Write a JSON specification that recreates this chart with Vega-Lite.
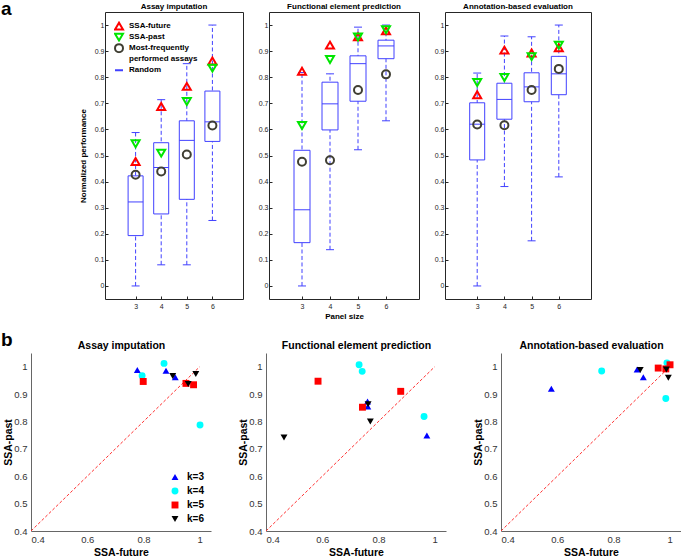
{
  "$schema": "https://vega.github.io/schema/vega-lite/v6.json",
  "padding": {"left": 0, "top": 0, "right": 0, "bottom": 0},
  "config": {"font": "Liberation Sans", "view": {"stroke": null}, "axis": {"grid": false}},
  "datasets": {
    "boxes": [
      {"panel": "AI", "k": 3, "min": 0.0, "q1": 0.193, "med": 0.322, "q3": 0.422, "max": 0.588},
      {"panel": "AI", "k": 4, "min": 0.081, "q1": 0.276, "med": 0.454, "q3": 0.549, "max": 0.714},
      {"panel": "AI", "k": 5, "min": 0.081, "q1": 0.332, "med": 0.558, "q3": 0.633, "max": 0.852},
      {"panel": "AI", "k": 6, "min": 0.251, "q1": 0.554, "med": 0.629, "q3": 0.747, "max": 1.0},
      {"panel": "FEP", "k": 3, "min": 0.0, "q1": 0.166, "med": 0.292, "q3": 0.52, "max": 0.818},
      {"panel": "FEP", "k": 4, "min": 0.139, "q1": 0.598, "med": 0.698, "q3": 0.781, "max": 0.813},
      {"panel": "FEP", "k": 5, "min": 0.522, "q1": 0.708, "med": 0.852, "q3": 0.882, "max": 0.992},
      {"panel": "FEP", "k": 6, "min": 0.633, "q1": 0.871, "med": 0.92, "q3": 0.942, "max": 1.0},
      {"panel": "ABE", "k": 3, "min": 0.0, "q1": 0.483, "med": 0.62, "q3": 0.702, "max": 0.816},
      {"panel": "ABE", "k": 4, "min": 0.381, "q1": 0.639, "med": 0.715, "q3": 0.777, "max": 0.958},
      {"panel": "ABE", "k": 5, "min": 0.173, "q1": 0.706, "med": 0.763, "q3": 0.817, "max": 0.955},
      {"panel": "ABE", "k": 6, "min": 0.418, "q1": 0.733, "med": 0.813, "q3": 0.88, "max": 1.0}
    ],
    "markers": [
      {"panel": "AI", "k": 3, "method": "SSA-future", "value": 0.477},
      {"panel": "AI", "k": 4, "method": "SSA-future", "value": 0.688},
      {"panel": "AI", "k": 5, "method": "SSA-future", "value": 0.765},
      {"panel": "AI", "k": 6, "method": "SSA-future", "value": 0.862},
      {"panel": "AI", "k": 3, "method": "SSA-past", "value": 0.545},
      {"panel": "AI", "k": 4, "method": "SSA-past", "value": 0.509},
      {"panel": "AI", "k": 5, "method": "SSA-past", "value": 0.707},
      {"panel": "AI", "k": 6, "method": "SSA-past", "value": 0.835},
      {"panel": "AI", "k": 3, "method": "Most-frequently performed assays", "value": 0.426},
      {"panel": "AI", "k": 4, "method": "Most-frequently performed assays", "value": 0.439},
      {"panel": "AI", "k": 5, "method": "Most-frequently performed assays", "value": 0.504},
      {"panel": "AI", "k": 6, "method": "Most-frequently performed assays", "value": 0.615},
      {"panel": "FEP", "k": 3, "method": "SSA-future", "value": 0.823},
      {"panel": "FEP", "k": 4, "method": "SSA-future", "value": 0.923},
      {"panel": "FEP", "k": 5, "method": "SSA-future", "value": 0.955},
      {"panel": "FEP", "k": 6, "method": "SSA-future", "value": 0.978},
      {"panel": "FEP", "k": 3, "method": "SSA-past", "value": 0.615},
      {"panel": "FEP", "k": 4, "method": "SSA-past", "value": 0.868},
      {"panel": "FEP", "k": 5, "method": "SSA-past", "value": 0.954},
      {"panel": "FEP", "k": 6, "method": "SSA-past", "value": 0.982},
      {"panel": "FEP", "k": 3, "method": "Most-frequently performed assays", "value": 0.476},
      {"panel": "FEP", "k": 4, "method": "Most-frequently performed assays", "value": 0.482},
      {"panel": "FEP", "k": 5, "method": "Most-frequently performed assays", "value": 0.751},
      {"panel": "FEP", "k": 6, "method": "Most-frequently performed assays", "value": 0.811},
      {"panel": "ABE", "k": 3, "method": "SSA-future", "value": 0.733},
      {"panel": "ABE", "k": 4, "method": "SSA-future", "value": 0.904},
      {"panel": "ABE", "k": 5, "method": "SSA-future", "value": 0.893},
      {"panel": "ABE", "k": 6, "method": "SSA-future", "value": 0.913},
      {"panel": "ABE", "k": 3, "method": "SSA-past", "value": 0.78},
      {"panel": "ABE", "k": 4, "method": "SSA-past", "value": 0.799},
      {"panel": "ABE", "k": 5, "method": "SSA-past", "value": 0.879},
      {"panel": "ABE", "k": 6, "method": "SSA-past", "value": 0.923},
      {"panel": "ABE", "k": 3, "method": "Most-frequently performed assays", "value": 0.619},
      {"panel": "ABE", "k": 4, "method": "Most-frequently performed assays", "value": 0.616},
      {"panel": "ABE", "k": 5, "method": "Most-frequently performed assays", "value": 0.751},
      {"panel": "ABE", "k": 6, "method": "Most-frequently performed assays", "value": 0.832}
    ],
    "scatter": [
      {"panel": "AI", "k": 3, "future": 0.778, "past": 0.988},
      {"panel": "AI", "k": 3, "future": 0.88, "past": 0.985},
      {"panel": "AI", "k": 3, "future": 0.913, "past": 0.961},
      {"panel": "AI", "k": 4, "future": 0.795, "past": 0.967},
      {"panel": "AI", "k": 4, "future": 0.873, "past": 1.012},
      {"panel": "AI", "k": 4, "future": 1.001, "past": 0.787},
      {"panel": "AI", "k": 5, "future": 0.799, "past": 0.946},
      {"panel": "AI", "k": 5, "future": 0.951, "past": 0.939},
      {"panel": "AI", "k": 5, "future": 0.978, "past": 0.934},
      {"panel": "AI", "k": 6, "future": 0.904, "past": 0.966},
      {"panel": "AI", "k": 6, "future": 0.959, "past": 0.937},
      {"panel": "AI", "k": 6, "future": 0.986, "past": 0.973},
      {"panel": "FEP", "k": 3, "future": 0.761, "past": 0.873},
      {"panel": "FEP", "k": 3, "future": 0.762, "past": 0.855},
      {"panel": "FEP", "k": 3, "future": 0.972, "past": 0.749},
      {"panel": "FEP", "k": 4, "future": 0.731, "past": 1.007},
      {"panel": "FEP", "k": 4, "future": 0.742, "past": 0.983},
      {"panel": "FEP", "k": 4, "future": 0.962, "past": 0.818},
      {"panel": "FEP", "k": 5, "future": 0.585, "past": 0.947},
      {"panel": "FEP", "k": 5, "future": 0.879, "past": 0.91},
      {"panel": "FEP", "k": 5, "future": 0.743, "past": 0.852},
      {"panel": "FEP", "k": 6, "future": 0.763, "past": 0.863},
      {"panel": "FEP", "k": 6, "future": 0.771, "past": 0.8},
      {"panel": "FEP", "k": 6, "future": 0.464, "past": 0.741},
      {"panel": "ABE", "k": 3, "future": 0.579, "past": 0.919},
      {"panel": "ABE", "k": 3, "future": 0.884, "past": 0.99},
      {"panel": "ABE", "k": 3, "future": 0.906, "past": 0.961},
      {"panel": "ABE", "k": 4, "future": 0.758, "past": 0.984},
      {"panel": "ABE", "k": 4, "future": 0.99, "past": 1.014},
      {"panel": "ABE", "k": 4, "future": 0.986, "past": 0.884},
      {"panel": "ABE", "k": 5, "future": 0.959, "past": 0.995},
      {"panel": "ABE", "k": 5, "future": 1.001, "past": 1.007},
      {"panel": "ABE", "k": 5, "future": 0.986, "past": 0.992},
      {"panel": "ABE", "k": 6, "future": 0.895, "past": 0.988},
      {"panel": "ABE", "k": 6, "future": 0.995, "past": 0.96},
      {"panel": "ABE", "k": 6, "future": 0.988, "past": 0.99}
    ]
  },
  "resolve": {"scale": {"color": "independent", "shape": "independent"}},
  "spacing": 10,
  "vconcat": [
    {
      "resolve": {"scale": {"color": "independent", "shape": "independent"}},
      "spacing": 13,
      "hconcat": [
        {
          "width": 34, "height": 287,
          "view": {"fill": "white", "stroke": null},
          "data": {"values": [{"label": "a"}]},
          "mark": {"type": "text", "fontSize": 19, "fontWeight": "bold", "color": "#000", "align": "left", "baseline": "alphabetic"},
          "encoding": {
            "x": {"datum": -0.8824, "type": "quantitative", "scale": {"domain": [0, 1], "nice": false, "zero": false}, "axis": null},
            "y": {"datum": 1.0383, "type": "quantitative", "scale": {"domain": [-0.05, 1.05], "nice": false, "zero": false}, "axis": null},
            "text": {"field": "label"}
          }
        },
        {
          "width": 138, "height": 287,
          "view": {"stroke": "#262626"},
          "title": {"text": "Assay imputation", "fontSize": 8, "fontWeight": "bold", "offset": 1, "color": "#000"},
          "encoding": {
            "x": {"field": "k", "type": "quantitative", "scale": {"domain": [2, 7], "nice": false, "zero": false}, "axis": {"values": [3, 4, 5, 6], "title": null, "labelFontSize": 7, "labelColor": "#262626", "labelPadding": 6, "tickSize": -3, "tickColor": "#262626", "domain": false}}
          },
          "layer": [
            {"data": {"name": "boxes"}, "transform": [{"filter": "datum.panel == 'AI'"}],
             "mark": {"type": "rule", "stroke": "#4040ff", "strokeDash": [4, 2.5], "strokeWidth": 1},
             "encoding": {
               "y": {"field": "min", "type": "quantitative", "scale": {"domain": [-0.05, 1.05], "nice": false, "zero": false}, "axis": {"values": [0, 0.1, 0.2, 0.3, 0.4, 0.5, 0.6, 0.7, 0.8, 0.9, 1], "labelExpr": "format(datum.value, '~g')", "title": "Normalized performance", "titleFontSize": 8, "titleFontWeight": "bold", "titleColor": "#000", "titlePadding": 7, "labelFontSize": 7, "labelColor": "#262626", "labelPadding": 4, "tickSize": -3, "tickColor": "#262626", "domain": false}},
               "y2": {"field": "max"}
             }},
            {"data": {"name": "boxes"}, "transform": [{"filter": "datum.panel == 'AI'"}],
             "mark": {"type": "tick", "orient": "horizontal", "color": "#4040ff", "size": 8, "thickness": 1, "opacity": 1},
             "encoding": {"y": {"field": "min", "type": "quantitative", "scale": {"domain": [-0.05, 1.05], "nice": false, "zero": false}, "axis": {"values": [0, 0.1, 0.2, 0.3, 0.4, 0.5, 0.6, 0.7, 0.8, 0.9, 1], "labelExpr": "format(datum.value, '~g')", "title": "Normalized performance", "titleFontSize": 8, "titleFontWeight": "bold", "titleColor": "#000", "titlePadding": 7, "labelFontSize": 7, "labelColor": "#262626", "labelPadding": 4, "tickSize": -3, "tickColor": "#262626", "domain": false}}}},
            {"data": {"name": "boxes"}, "transform": [{"filter": "datum.panel == 'AI'"}],
             "mark": {"type": "tick", "orient": "horizontal", "color": "#4040ff", "size": 8, "thickness": 1, "opacity": 1},
             "encoding": {"y": {"field": "max", "type": "quantitative", "scale": {"domain": [-0.05, 1.05], "nice": false, "zero": false}, "axis": {"values": [0, 0.1, 0.2, 0.3, 0.4, 0.5, 0.6, 0.7, 0.8, 0.9, 1], "labelExpr": "format(datum.value, '~g')", "title": "Normalized performance", "titleFontSize": 8, "titleFontWeight": "bold", "titleColor": "#000", "titlePadding": 7, "labelFontSize": 7, "labelColor": "#262626", "labelPadding": 4, "tickSize": -3, "tickColor": "#262626", "domain": false}}}},
            {"data": {"name": "boxes"}, "transform": [{"filter": "datum.panel == 'AI'"}],
             "mark": {"type": "bar", "width": 15, "fill": "white", "stroke": "#4040ff", "strokeWidth": 1},
             "encoding": {"y": {"field": "q1", "type": "quantitative", "scale": {"domain": [-0.05, 1.05], "nice": false, "zero": false}, "axis": {"values": [0, 0.1, 0.2, 0.3, 0.4, 0.5, 0.6, 0.7, 0.8, 0.9, 1], "labelExpr": "format(datum.value, '~g')", "title": "Normalized performance", "titleFontSize": 8, "titleFontWeight": "bold", "titleColor": "#000", "titlePadding": 7, "labelFontSize": 7, "labelColor": "#262626", "labelPadding": 4, "tickSize": -3, "tickColor": "#262626", "domain": false}}, "y2": {"field": "q3"}}},
            {"data": {"name": "boxes"}, "transform": [{"filter": "datum.panel == 'AI'"}],
             "mark": {"type": "tick", "orient": "horizontal", "color": "#4040ff", "size": 15, "thickness": 1, "opacity": 1},
             "encoding": {"y": {"field": "med", "type": "quantitative", "scale": {"domain": [-0.05, 1.05], "nice": false, "zero": false}, "axis": {"values": [0, 0.1, 0.2, 0.3, 0.4, 0.5, 0.6, 0.7, 0.8, 0.9, 1], "labelExpr": "format(datum.value, '~g')", "title": "Normalized performance", "titleFontSize": 8, "titleFontWeight": "bold", "titleColor": "#000", "titlePadding": 7, "labelFontSize": 7, "labelColor": "#262626", "labelPadding": 4, "tickSize": -3, "tickColor": "#262626", "domain": false}}}},
            {"data": {"name": "markers"}, "transform": [{"filter": "datum.panel == 'AI'"}],
             "mark": {"type": "point", "filled": false, "strokeWidth": 2, "size": 64, "opacity": 1},
             "encoding": {
               "y": {"field": "value", "type": "quantitative", "scale": {"domain": [-0.05, 1.05], "nice": false, "zero": false}, "axis": {"values": [0, 0.1, 0.2, 0.3, 0.4, 0.5, 0.6, 0.7, 0.8, 0.9, 1], "labelExpr": "format(datum.value, '~g')", "title": "Normalized performance", "titleFontSize": 8, "titleFontWeight": "bold", "titleColor": "#000", "titlePadding": 7, "labelFontSize": 7, "labelColor": "#262626", "labelPadding": 4, "tickSize": -3, "tickColor": "#262626", "domain": false}},
               "shape": {"field": "method", "type": "nominal", "scale": {"domain": ["SSA-future", "SSA-past", "Most-frequently performed assays", "performed assays", "Random"], "range": ["triangle-up", "triangle-down", "circle", "circle", "stroke"]},
                 "legend": {"orient": "top-left", "offset": 9, "title": null, "padding": 0, "labelFontSize": 8, "labelFontWeight": "bold", "labelColor": "#000", "labelLimit": 300, "labelOffset": 5, "symbolSize": 64, "symbolStrokeWidth": 2, "rowPadding": 0, "clipHeight": 10.3, "labelExpr": "datum.label == 'Most-frequently performed assays' ? 'Most-frequently' : datum.label"}},
               "color": {"field": "method", "type": "nominal", "scale": {"domain": ["SSA-future", "SSA-past", "Most-frequently performed assays", "performed assays", "Random"], "range": ["#ff0000", "#00e600", "#403f33", "transparent", "#4040ff"]},
                 "legend": {"orient": "top-left", "offset": 9, "title": null, "padding": 0, "labelFontSize": 8, "labelFontWeight": "bold", "labelColor": "#000", "labelLimit": 300, "labelOffset": 5, "symbolSize": 64, "symbolStrokeWidth": 2, "rowPadding": 0, "clipHeight": 10.3, "labelExpr": "datum.label == 'Most-frequently performed assays' ? 'Most-frequently' : datum.label"}}
             }}
          ]
        },
        {
          "width": 150, "height": 287,
          "view": {"stroke": "#262626"},
          "title": {"text": "Functional element prediction", "fontSize": 8, "fontWeight": "bold", "offset": 1, "color": "#000"},
          "encoding": {
            "x": {"field": "k", "type": "quantitative", "scale": {"domain": [2, 7], "nice": false, "zero": false}, "axis": {"values": [3, 4, 5, 6], "title": "Panel size", "titleFontSize": 8, "titleFontWeight": "bold", "titleColor": "#000", "titlePadding": 3, "labelFontSize": 7, "labelColor": "#262626", "labelPadding": 6, "tickSize": -3, "tickColor": "#262626", "domain": false}}
          },
          "layer": [
            {"data": {"name": "boxes"}, "transform": [{"filter": "datum.panel == 'FEP'"}],
             "mark": {"type": "rule", "stroke": "#4040ff", "strokeDash": [4, 2.5], "strokeWidth": 1},
             "encoding": {
               "y": {"field": "min", "type": "quantitative", "scale": {"domain": [-0.05, 1.05], "nice": false, "zero": false}, "axis": {"values": [0, 0.1, 0.2, 0.3, 0.4, 0.5, 0.6, 0.7, 0.8, 0.9, 1], "labelExpr": "format(datum.value, '~g')", "title": null, "labelFontSize": 7, "labelColor": "#262626", "labelPadding": 4, "tickSize": -3, "tickColor": "#262626", "domain": false}},
               "y2": {"field": "max"}
             }},
            {"data": {"name": "boxes"}, "transform": [{"filter": "datum.panel == 'FEP'"}],
             "mark": {"type": "tick", "orient": "horizontal", "color": "#4040ff", "size": 8, "thickness": 1, "opacity": 1},
             "encoding": {"y": {"field": "min", "type": "quantitative", "scale": {"domain": [-0.05, 1.05], "nice": false, "zero": false}, "axis": {"values": [0, 0.1, 0.2, 0.3, 0.4, 0.5, 0.6, 0.7, 0.8, 0.9, 1], "labelExpr": "format(datum.value, '~g')", "title": null, "labelFontSize": 7, "labelColor": "#262626", "labelPadding": 4, "tickSize": -3, "tickColor": "#262626", "domain": false}}}},
            {"data": {"name": "boxes"}, "transform": [{"filter": "datum.panel == 'FEP'"}],
             "mark": {"type": "tick", "orient": "horizontal", "color": "#4040ff", "size": 8, "thickness": 1, "opacity": 1},
             "encoding": {"y": {"field": "max", "type": "quantitative", "scale": {"domain": [-0.05, 1.05], "nice": false, "zero": false}, "axis": {"values": [0, 0.1, 0.2, 0.3, 0.4, 0.5, 0.6, 0.7, 0.8, 0.9, 1], "labelExpr": "format(datum.value, '~g')", "title": null, "labelFontSize": 7, "labelColor": "#262626", "labelPadding": 4, "tickSize": -3, "tickColor": "#262626", "domain": false}}}},
            {"data": {"name": "boxes"}, "transform": [{"filter": "datum.panel == 'FEP'"}],
             "mark": {"type": "bar", "width": 16, "fill": "white", "stroke": "#4040ff", "strokeWidth": 1},
             "encoding": {"y": {"field": "q1", "type": "quantitative", "scale": {"domain": [-0.05, 1.05], "nice": false, "zero": false}, "axis": {"values": [0, 0.1, 0.2, 0.3, 0.4, 0.5, 0.6, 0.7, 0.8, 0.9, 1], "labelExpr": "format(datum.value, '~g')", "title": null, "labelFontSize": 7, "labelColor": "#262626", "labelPadding": 4, "tickSize": -3, "tickColor": "#262626", "domain": false}}, "y2": {"field": "q3"}}},
            {"data": {"name": "boxes"}, "transform": [{"filter": "datum.panel == 'FEP'"}],
             "mark": {"type": "tick", "orient": "horizontal", "color": "#4040ff", "size": 16, "thickness": 1, "opacity": 1},
             "encoding": {"y": {"field": "med", "type": "quantitative", "scale": {"domain": [-0.05, 1.05], "nice": false, "zero": false}, "axis": {"values": [0, 0.1, 0.2, 0.3, 0.4, 0.5, 0.6, 0.7, 0.8, 0.9, 1], "labelExpr": "format(datum.value, '~g')", "title": null, "labelFontSize": 7, "labelColor": "#262626", "labelPadding": 4, "tickSize": -3, "tickColor": "#262626", "domain": false}}}},
            {"data": {"name": "markers"}, "transform": [{"filter": "datum.panel == 'FEP'"}],
             "mark": {"type": "point", "filled": false, "strokeWidth": 2, "size": 64, "opacity": 1},
             "encoding": {
               "y": {"field": "value", "type": "quantitative", "scale": {"domain": [-0.05, 1.05], "nice": false, "zero": false}, "axis": {"values": [0, 0.1, 0.2, 0.3, 0.4, 0.5, 0.6, 0.7, 0.8, 0.9, 1], "labelExpr": "format(datum.value, '~g')", "title": null, "labelFontSize": 7, "labelColor": "#262626", "labelPadding": 4, "tickSize": -3, "tickColor": "#262626", "domain": false}},
               "shape": {"field": "method", "type": "nominal", "scale": {"domain": ["SSA-future", "SSA-past", "Most-frequently performed assays"], "range": ["triangle-up", "triangle-down", "circle"]}, "legend": null},
               "color": {"field": "method", "type": "nominal", "scale": {"domain": ["SSA-future", "SSA-past", "Most-frequently performed assays"], "range": ["#ff0000", "#00e600", "#403f33"]}, "legend": null}
             }}
          ]
        },
        {
          "width": 146, "height": 287,
          "view": {"stroke": "#262626"},
          "title": {"text": "Annotation-based evaluation", "fontSize": 8, "fontWeight": "bold", "offset": 1, "color": "#000"},
          "encoding": {
            "x": {"field": "k", "type": "quantitative", "scale": {"domain": [2, 7], "nice": false, "zero": false}, "axis": {"values": [3, 4, 5, 6], "title": null, "labelFontSize": 7, "labelColor": "#262626", "labelPadding": 6, "tickSize": -3, "tickColor": "#262626", "domain": false}}
          },
          "layer": [
            {"data": {"name": "boxes"}, "transform": [{"filter": "datum.panel == 'ABE'"}],
             "mark": {"type": "rule", "stroke": "#4040ff", "strokeDash": [4, 2.5], "strokeWidth": 1},
             "encoding": {
               "y": {"field": "min", "type": "quantitative", "scale": {"domain": [-0.05, 1.05], "nice": false, "zero": false}, "axis": {"values": [0, 0.1, 0.2, 0.3, 0.4, 0.5, 0.6, 0.7, 0.8, 0.9, 1], "labelExpr": "format(datum.value, '~g')", "title": null, "labelFontSize": 7, "labelColor": "#262626", "labelPadding": 4, "tickSize": -3, "tickColor": "#262626", "domain": false}},
               "y2": {"field": "max"}
             }},
            {"data": {"name": "boxes"}, "transform": [{"filter": "datum.panel == 'ABE'"}],
             "mark": {"type": "tick", "orient": "horizontal", "color": "#4040ff", "size": 8, "thickness": 1, "opacity": 1},
             "encoding": {"y": {"field": "min", "type": "quantitative", "scale": {"domain": [-0.05, 1.05], "nice": false, "zero": false}, "axis": {"values": [0, 0.1, 0.2, 0.3, 0.4, 0.5, 0.6, 0.7, 0.8, 0.9, 1], "labelExpr": "format(datum.value, '~g')", "title": null, "labelFontSize": 7, "labelColor": "#262626", "labelPadding": 4, "tickSize": -3, "tickColor": "#262626", "domain": false}}}},
            {"data": {"name": "boxes"}, "transform": [{"filter": "datum.panel == 'ABE'"}],
             "mark": {"type": "tick", "orient": "horizontal", "color": "#4040ff", "size": 8, "thickness": 1, "opacity": 1},
             "encoding": {"y": {"field": "max", "type": "quantitative", "scale": {"domain": [-0.05, 1.05], "nice": false, "zero": false}, "axis": {"values": [0, 0.1, 0.2, 0.3, 0.4, 0.5, 0.6, 0.7, 0.8, 0.9, 1], "labelExpr": "format(datum.value, '~g')", "title": null, "labelFontSize": 7, "labelColor": "#262626", "labelPadding": 4, "tickSize": -3, "tickColor": "#262626", "domain": false}}}},
            {"data": {"name": "boxes"}, "transform": [{"filter": "datum.panel == 'ABE'"}],
             "mark": {"type": "bar", "width": 15, "fill": "white", "stroke": "#4040ff", "strokeWidth": 1},
             "encoding": {"y": {"field": "q1", "type": "quantitative", "scale": {"domain": [-0.05, 1.05], "nice": false, "zero": false}, "axis": {"values": [0, 0.1, 0.2, 0.3, 0.4, 0.5, 0.6, 0.7, 0.8, 0.9, 1], "labelExpr": "format(datum.value, '~g')", "title": null, "labelFontSize": 7, "labelColor": "#262626", "labelPadding": 4, "tickSize": -3, "tickColor": "#262626", "domain": false}}, "y2": {"field": "q3"}}},
            {"data": {"name": "boxes"}, "transform": [{"filter": "datum.panel == 'ABE'"}],
             "mark": {"type": "tick", "orient": "horizontal", "color": "#4040ff", "size": 15, "thickness": 1, "opacity": 1},
             "encoding": {"y": {"field": "med", "type": "quantitative", "scale": {"domain": [-0.05, 1.05], "nice": false, "zero": false}, "axis": {"values": [0, 0.1, 0.2, 0.3, 0.4, 0.5, 0.6, 0.7, 0.8, 0.9, 1], "labelExpr": "format(datum.value, '~g')", "title": null, "labelFontSize": 7, "labelColor": "#262626", "labelPadding": 4, "tickSize": -3, "tickColor": "#262626", "domain": false}}}},
            {"data": {"name": "markers"}, "transform": [{"filter": "datum.panel == 'ABE'"}],
             "mark": {"type": "point", "filled": false, "strokeWidth": 2, "size": 64, "opacity": 1},
             "encoding": {
               "y": {"field": "value", "type": "quantitative", "scale": {"domain": [-0.05, 1.05], "nice": false, "zero": false}, "axis": {"values": [0, 0.1, 0.2, 0.3, 0.4, 0.5, 0.6, 0.7, 0.8, 0.9, 1], "labelExpr": "format(datum.value, '~g')", "title": null, "labelFontSize": 7, "labelColor": "#262626", "labelPadding": 4, "tickSize": -3, "tickColor": "#262626", "domain": false}},
               "shape": {"field": "method", "type": "nominal", "scale": {"domain": ["SSA-future", "SSA-past", "Most-frequently performed assays"], "range": ["triangle-up", "triangle-down", "circle"]}, "legend": null},
               "color": {"field": "method", "type": "nominal", "scale": {"domain": ["SSA-future", "SSA-past", "Most-frequently performed assays"], "range": ["#ff0000", "#00e600", "#403f33"]}, "legend": null}
             }}
          ]
        }
      ]
    },
    {
      "resolve": {"scale": {"color": "independent", "shape": "independent"}},
      "spacing": 27,
      "hconcat": [
        {
          "width": 180, "height": 178,
          "resolve": {"axis": {"x": "independent"}},
          "layer": [
            {"data": {"values": [{"future": 0.4, "past": 0.4, "future2": 1, "past2": 1}]},
             "mark": {"type": "rule", "stroke": "#ff3030", "strokeDash": [3, 2], "strokeWidth": 1},
             "encoding": {
               "x": {"field": "future", "type": "quantitative", "scale": {"domain": [0.4, 1.04], "nice": false, "zero": false}, "axis": {"orient": "top", "title": "Assay imputation", "labels": false, "ticks": false, "domain": false, "titleFontSize": 10.5, "titleFontWeight": "bold", "titleColor": "#000", "titlePadding": 3}},
               "y": {"field": "past", "type": "quantitative", "scale": {"domain": [0.4, 1.05], "nice": false, "zero": false}, "axis": {"values": [0.4, 0.5, 0.6, 0.7, 0.8, 0.9, 1], "labelExpr": "format(datum.value, '~g')", "title": "SSA-past", "titleFontSize": 10.5, "titleFontWeight": "bold", "titleColor": "#000", "titlePadding": 0, "labelFontSize": 9.5, "labelColor": "#333", "labelPadding": 4, "ticks": false, "domainColor": "#666"}},
               "x2": {"field": "future2"}, "y2": {"field": "past2"}
             }},
            {"data": {"name": "scatter"}, "transform": [{"filter": "datum.panel == 'AI'"}],
             "mark": {"type": "point", "filled": true, "size": 48, "opacity": 1},
             "encoding": {
               "x": {"field": "future", "type": "quantitative", "scale": {"domain": [0.4, 1.04], "nice": false, "zero": false}, "axis": {"orient": "bottom", "values": [0.4, 0.6, 0.8, 1], "labelExpr": "format(datum.value, '~g')", "title": "SSA-future", "titleFontSize": 10.5, "titleFontWeight": "bold", "titleColor": "#000", "titlePadding": 4, "labelFontSize": 9.5, "labelColor": "#333", "labelPadding": 3, "ticks": false, "domainColor": "#666"}},
               "y": {"field": "past", "type": "quantitative", "scale": {"domain": [0.4, 1.05], "nice": false, "zero": false}, "axis": {"values": [0.4, 0.5, 0.6, 0.7, 0.8, 0.9, 1], "labelExpr": "format(datum.value, '~g')", "title": "SSA-past", "titleFontSize": 10.5, "titleFontWeight": "bold", "titleColor": "#000", "titlePadding": 0, "labelFontSize": 9.5, "labelColor": "#333", "labelPadding": 4, "ticks": false, "domainColor": "#666"}},
               "shape": {"field": "k", "type": "nominal", "scale": {"domain": [3, 4, 5, 6], "range": ["triangle-up", "circle", "square", "triangle-down"]},
                 "legend": {"orient": "bottom-right", "offset": 7, "title": null, "padding": 0, "labelExpr": "'k=' + datum.label", "labelFontSize": 10, "labelFontWeight": "bold", "labelColor": "#000", "labelOffset": 7, "symbolSize": 48, "rowPadding": 4}},
               "color": {"field": "k", "type": "nominal", "scale": {"domain": [3, 4, 5, 6], "range": ["#0000ff", "#00ffff", "#ff0000", "#000000"]},
                 "legend": {"orient": "bottom-right", "offset": 7, "title": null, "padding": 0, "labelExpr": "'k=' + datum.label", "labelFontSize": 10, "labelFontWeight": "bold", "labelColor": "#000", "labelOffset": 7, "symbolSize": 48, "rowPadding": 4}}
             }},
            {"data": {"values": [{"label": "b", "future": 0.2933, "past": 1.0745}]},
             "mark": {"type": "text", "fontSize": 19, "fontWeight": "bold", "color": "#000", "align": "left", "baseline": "alphabetic"},
             "encoding": {
               "x": {"field": "future", "type": "quantitative", "scale": {"domain": [0.4, 1.04], "nice": false, "zero": false}, "axis": null},
               "y": {"field": "past", "type": "quantitative", "scale": {"domain": [0.4, 1.05], "nice": false, "zero": false}, "axis": {"values": [0.4, 0.5, 0.6, 0.7, 0.8, 0.9, 1], "labelExpr": "format(datum.value, '~g')", "title": "SSA-past", "titleFontSize": 10.5, "titleFontWeight": "bold", "titleColor": "#000", "titlePadding": 0, "labelFontSize": 9.5, "labelColor": "#333", "labelPadding": 4, "ticks": false, "domainColor": "#666"}},
               "text": {"field": "label"}
             }}
          ]
        },
        {
          "width": 180, "height": 178,
          "resolve": {"axis": {"x": "independent"}},
          "layer": [
            {"data": {"values": [{"future": 0.4, "past": 0.4, "future2": 1, "past2": 1}]},
             "mark": {"type": "rule", "stroke": "#ff3030", "strokeDash": [3, 2], "strokeWidth": 1},
             "encoding": {
               "x": {"field": "future", "type": "quantitative", "scale": {"domain": [0.4, 1.04], "nice": false, "zero": false}, "axis": {"orient": "top", "title": "Functional element prediction", "labels": false, "ticks": false, "domain": false, "titleFontSize": 10.5, "titleFontWeight": "bold", "titleColor": "#000", "titlePadding": 3}},
               "y": {"field": "past", "type": "quantitative", "scale": {"domain": [0.4, 1.05], "nice": false, "zero": false}, "axis": {"values": [0.4, 0.5, 0.6, 0.7, 0.8, 0.9, 1], "labelExpr": "format(datum.value, '~g')", "title": "SSA-past", "titleFontSize": 10.5, "titleFontWeight": "bold", "titleColor": "#000", "titlePadding": 0, "labelFontSize": 9.5, "labelColor": "#333", "labelPadding": 4, "ticks": false, "domainColor": "#666"}},
               "x2": {"field": "future2"}, "y2": {"field": "past2"}
             }},
            {"data": {"name": "scatter"}, "transform": [{"filter": "datum.panel == 'FEP'"}],
             "mark": {"type": "point", "filled": true, "size": 48, "opacity": 1},
             "encoding": {
               "x": {"field": "future", "type": "quantitative", "scale": {"domain": [0.4, 1.04], "nice": false, "zero": false}, "axis": {"orient": "bottom", "values": [0.4, 0.6, 0.8, 1], "labelExpr": "format(datum.value, '~g')", "title": "SSA-future", "titleFontSize": 10.5, "titleFontWeight": "bold", "titleColor": "#000", "titlePadding": 4, "labelFontSize": 9.5, "labelColor": "#333", "labelPadding": 3, "ticks": false, "domainColor": "#666"}},
               "y": {"field": "past", "type": "quantitative", "scale": {"domain": [0.4, 1.05], "nice": false, "zero": false}, "axis": {"values": [0.4, 0.5, 0.6, 0.7, 0.8, 0.9, 1], "labelExpr": "format(datum.value, '~g')", "title": "SSA-past", "titleFontSize": 10.5, "titleFontWeight": "bold", "titleColor": "#000", "titlePadding": 0, "labelFontSize": 9.5, "labelColor": "#333", "labelPadding": 4, "ticks": false, "domainColor": "#666"}},
               "shape": {"field": "k", "type": "nominal", "scale": {"domain": [3, 4, 5, 6], "range": ["triangle-up", "circle", "square", "triangle-down"]}, "legend": null},
               "color": {"field": "k", "type": "nominal", "scale": {"domain": [3, 4, 5, 6], "range": ["#0000ff", "#00ffff", "#ff0000", "#000000"]}, "legend": null}
             }}
          ]
        },
        {
          "width": 180, "height": 178,
          "resolve": {"axis": {"x": "independent"}},
          "layer": [
            {"data": {"values": [{"future": 0.4, "past": 0.4, "future2": 1, "past2": 1}]},
             "mark": {"type": "rule", "stroke": "#ff3030", "strokeDash": [3, 2], "strokeWidth": 1},
             "encoding": {
               "x": {"field": "future", "type": "quantitative", "scale": {"domain": [0.4, 1.04], "nice": false, "zero": false}, "axis": {"orient": "top", "title": "Annotation-based evaluation", "labels": false, "ticks": false, "domain": false, "titleFontSize": 10.5, "titleFontWeight": "bold", "titleColor": "#000", "titlePadding": 3}},
               "y": {"field": "past", "type": "quantitative", "scale": {"domain": [0.4, 1.05], "nice": false, "zero": false}, "axis": {"values": [0.4, 0.5, 0.6, 0.7, 0.8, 0.9, 1], "labelExpr": "format(datum.value, '~g')", "title": "SSA-past", "titleFontSize": 10.5, "titleFontWeight": "bold", "titleColor": "#000", "titlePadding": 0, "labelFontSize": 9.5, "labelColor": "#333", "labelPadding": 4, "ticks": false, "domainColor": "#666"}},
               "x2": {"field": "future2"}, "y2": {"field": "past2"}
             }},
            {"data": {"name": "scatter"}, "transform": [{"filter": "datum.panel == 'ABE'"}],
             "mark": {"type": "point", "filled": true, "size": 48, "opacity": 1},
             "encoding": {
               "x": {"field": "future", "type": "quantitative", "scale": {"domain": [0.4, 1.04], "nice": false, "zero": false}, "axis": {"orient": "bottom", "values": [0.4, 0.6, 0.8, 1], "labelExpr": "format(datum.value, '~g')", "title": "SSA-future", "titleFontSize": 10.5, "titleFontWeight": "bold", "titleColor": "#000", "titlePadding": 4, "labelFontSize": 9.5, "labelColor": "#333", "labelPadding": 3, "ticks": false, "domainColor": "#666"}},
               "y": {"field": "past", "type": "quantitative", "scale": {"domain": [0.4, 1.05], "nice": false, "zero": false}, "axis": {"values": [0.4, 0.5, 0.6, 0.7, 0.8, 0.9, 1], "labelExpr": "format(datum.value, '~g')", "title": "SSA-past", "titleFontSize": 10.5, "titleFontWeight": "bold", "titleColor": "#000", "titlePadding": 0, "labelFontSize": 9.5, "labelColor": "#333", "labelPadding": 4, "ticks": false, "domainColor": "#666"}},
               "shape": {"field": "k", "type": "nominal", "scale": {"domain": [3, 4, 5, 6], "range": ["triangle-up", "circle", "square", "triangle-down"]}, "legend": null},
               "color": {"field": "k", "type": "nominal", "scale": {"domain": [3, 4, 5, 6], "range": ["#0000ff", "#00ffff", "#ff0000", "#000000"]}, "legend": null}
             }}
          ]
        }
      ]
    }
  ]
}
